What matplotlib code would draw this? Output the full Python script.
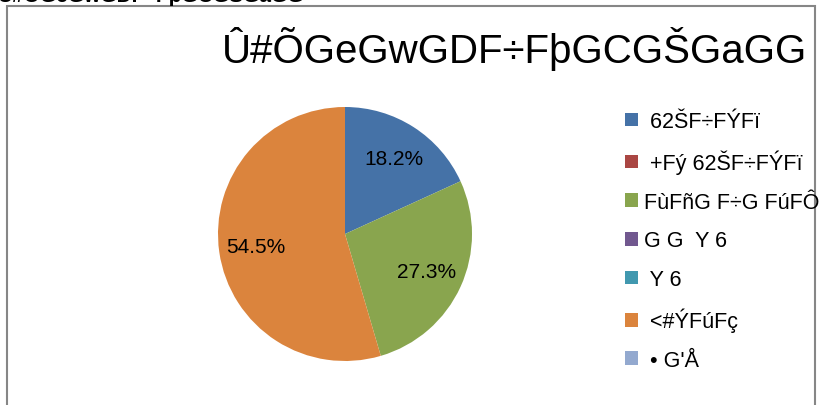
import matplotlib
matplotlib.use('Agg')
import matplotlib.pyplot as plt
from matplotlib.patches import Rectangle

# data
title = 'Û#ÕGeGwGDF÷FþGCGŠGaGG'
labels = [' 62ŠF÷FÝFï', ' +Fý 62ŠF÷FÝFï', 'FùFñG F÷G FúFÔ', 'G G  Y 6', ' Y 6', ' <#ÝFúFç', ' • G\'Å']
values = [2, 0, 3, 0, 0, 6, 0]
colors = ['#4572A7', '#AA4643', '#89A54E', '#71588F', '#4198AF', '#DB843D', '#93A9CF']

plt.rcParams['font.family'] = ['Liberation Sans', 'DejaVu Sans']

W, H = 827, 406
fig = plt.figure(figsize=(W / 100, H / 100), dpi=100)

# chart frame (runs off the bottom)
fig.patches.append(Rectangle((7 / W, -0.05), 808 / W, 1.05 - 7 / H, transform=fig.transFigure,
                             fill=False, edgecolor='#868686', linewidth=1.5))

# cut-off text at the top left
fig.text(-2 / W, 1 - 2 / H, title, fontsize=15, fontweight='bold', ha='left', va='baseline')

# title
fig.text(807 / W, 1 - 63 / H, title, fontsize=29, ha='right', va='baseline')

# pie
cx, cy, r = 345, 235, 127
ax = fig.add_axes([(cx - r) / W, (H - cy - r) / H, 2 * r / W, 2 * r / H])


def pct(p):
    return f'{p:.1f}%' if p > 0 else ''


wedges, texts, autotexts = ax.pie(values, colors=colors, startangle=90, counterclock=False,
                                  autopct=pct, pctdistance=0.71,
                                  wedgeprops=dict(linewidth=0),
                                  textprops=dict(fontsize=15, color='black'))
ax.set_xlim(-1, 1)
ax.set_ylim(-1, 1)
ax.set_aspect('equal')
ax.axis('off')

# legend
fig.legend(wedges, labels, loc='upper left', bbox_to_anchor=(625 / W, 1 - 112 / H),
           frameon=False, fontsize=15.5, handlelength=0.6, handleheight=0.6,
           handletextpad=0.3, labelspacing=0.82, borderaxespad=0, borderpad=0)

fig.savefig('out.png', dpi=100)
